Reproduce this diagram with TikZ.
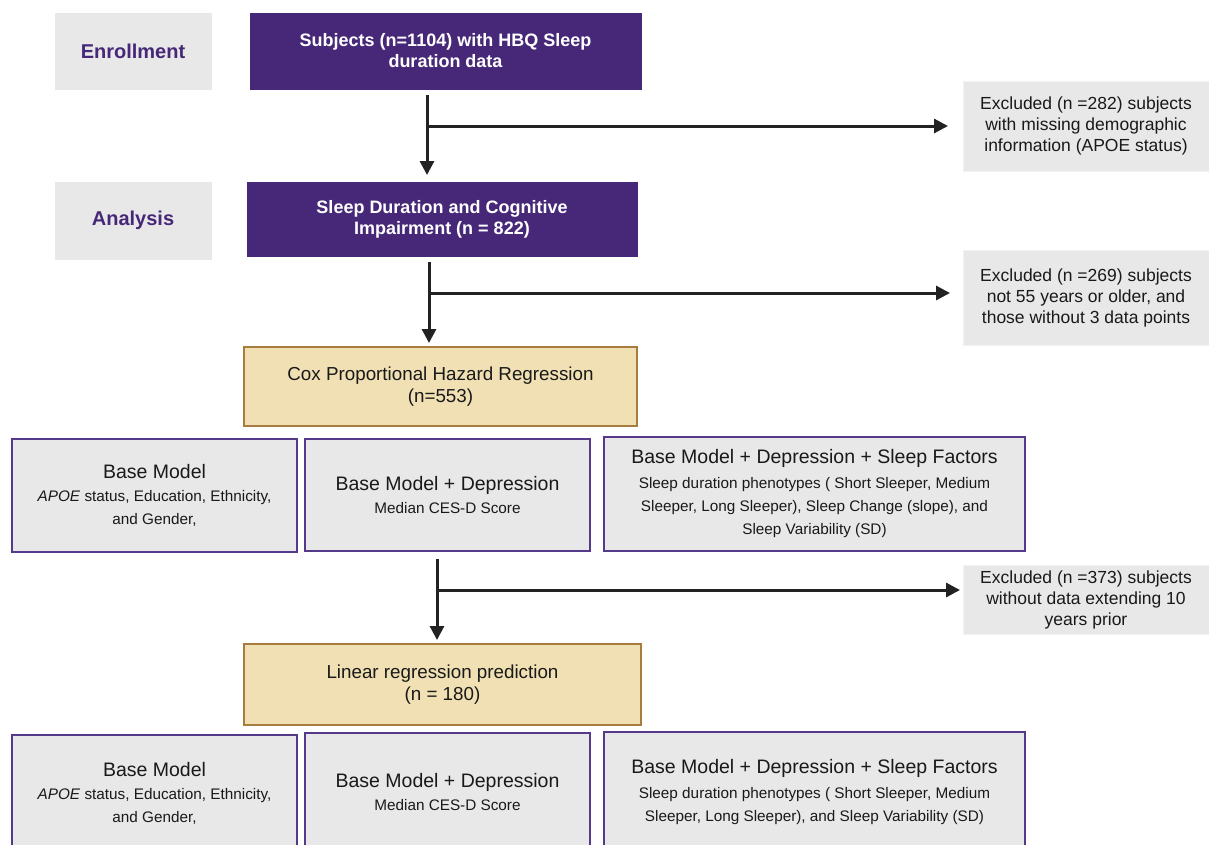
\documentclass[tikz,border=0pt]{standalone}
\usepackage{fontspec}
\setmainfont{Liberation Sans}
\usetikzlibrary{arrows.meta,calc}
\definecolor{purp}{HTML}{472878}
\definecolor{purpline}{HTML}{553A8C}
\definecolor{lgrey}{HTML}{E8E8E8}
\definecolor{tan}{HTML}{F0E0B4}
\definecolor{tanline}{HTML}{A87C3E}
\definecolor{arrowc}{HTML}{222222}
\tikzset{
  x=1pt,y=1pt,
  every node/.style={inner sep=0pt, outer sep=0pt, align=center},
  stagebox/.style={fill=lgrey, draw=white, line width=1pt, text=purp, font=\bfseries\fontsize{20}{24}\selectfont},
  purpbox/.style={fill=purp, draw=white, line width=1pt, text=white, font=\bfseries\fontsize{18}{21}\selectfont},
  exclbox/.style={fill=lgrey, draw=white!95!black, line width=0.8pt, text=black!90, font=\fontsize{17.5}{21}\selectfont},
  tanbox/.style={fill=tan, draw=tanline, line width=2pt, text=black!90, font=\fontsize{18.8}{22}\selectfont},
  modelbox/.style={fill=lgrey, draw=purpline, line width=2pt, text=black!90, font=\fontsize{15.3}{23}\selectfont},
  arr/.style={draw=arrowc, line width=3pt, -{Triangle[length=14pt,width=14pt]}},
}
\newcommand{\mtitle}[1]{{\fontsize{19.5}{24}\selectfont #1}}
\begin{document}
\begin{tikzpicture}
\useasboundingbox (0,0) rectangle (1209,-844);
% stage boxes
\node[stagebox, minimum width=158, minimum height=78] (enr) at (133,-51) {Enrollment};
\node[stagebox, minimum width=158, minimum height=79] (ana) at (133,-220.5) {Analysis};
% purple boxes
\node[purpbox, minimum width=393, minimum height=78] (subj) at (445.5,-51) {Subjects (n=1104) with HBQ Sleep\\duration data};
\node[purpbox, minimum width=392, minimum height=76] (sleep) at (442,-219) {Sleep Duration and Cognitive\\Impairment (n = 822)};
% excluded
\node[exclbox, minimum width=246, minimum height=90] (ex1) at (1086,-126) {Excluded (n =282) subjects\\with missing demographic\\information (APOE status)};
\node[exclbox, minimum width=246, minimum height=95] (ex2) at (1086,-298) {Excluded (n =269) subjects\\not 55 years or older, and\\those without 3 data points};
\node[exclbox, minimum width=246, minimum height=69] (ex3) at (1086,-600) {Excluded (n =373) subjects\\without data extending 10\\years prior};
% tan boxes
\node[tanbox, minimum width=393, minimum height=79] (cox) at (440.5,-386.5) {Cox Proportional Hazard Regression\\(n=553)};
\node[tanbox, minimum width=397, minimum height=81] (lin) at (442.5,-684.5) {Linear regression prediction\\(n = 180)};
% row 1 models
\node[modelbox, minimum width=285, minimum height=113] (m1) at (154.5,-495.5) {\mtitle{Base Model}\\\textit{APOE} status, Education, Ethnicity,\\and Gender,};
\node[modelbox, minimum width=285, minimum height=112] (m2) at (447.5,-495) {\mtitle{Base Model + Depression}\\Median CES-D Score};
\node[modelbox, minimum width=421, minimum height=114] (m3) at (814.5,-494) {\mtitle{Base Model + Depression + Sleep Factors}\\[2pt]Sleep duration phenotypes ( Short Sleeper, Medium\\Sleeper, Long Sleeper), Sleep Change (slope), and\\Sleep Variability (SD)};
% row 2 models (cut by the lower edge)
\node[modelbox, minimum width=285, minimum height=116] (n1) at (154.5,-793) {\mtitle{Base Model}\\\textit{APOE} status, Education, Ethnicity,\\and Gender,};
\node[modelbox, minimum width=285, minimum height=118] (n2) at (447.5,-792) {\mtitle{Base Model + Depression}\\Median CES-D Score};
\node[modelbox, minimum width=421, minimum height=120] (n3) at (814.5,-792) {\mtitle{Base Model + Depression + Sleep Factors}\\[2pt]Sleep duration phenotypes ( Short Sleeper, Medium\\Sleeper, Long Sleeper), and Sleep Variability (SD)};
% arrows
\coordinate (b1) at (427,-126);
\coordinate (b2) at (429,-293);
\coordinate (b3) at (437,-590);
\draw[arr, shorten <=5pt, shorten >=6pt] (subj.south -| b1) -- (sleep.north -| b1);
\draw[arr, shorten >=15pt] (b1) -- (ex1.west |- b1);
\draw[arr, shorten <=5pt, shorten >=4pt] (sleep.south -| b2) -- (cox.north -| b2);
\draw[arr, shorten >=13pt] (b2) -- (ex2.west |- b2);
\draw[arr, shorten <=8pt, shorten >=4pt] (m2.south -| b3) -- (lin.north -| b3);
\draw[arr, shorten >=3pt] (b3) -- (ex3.west |- b3);
\end{tikzpicture}
\end{document}
